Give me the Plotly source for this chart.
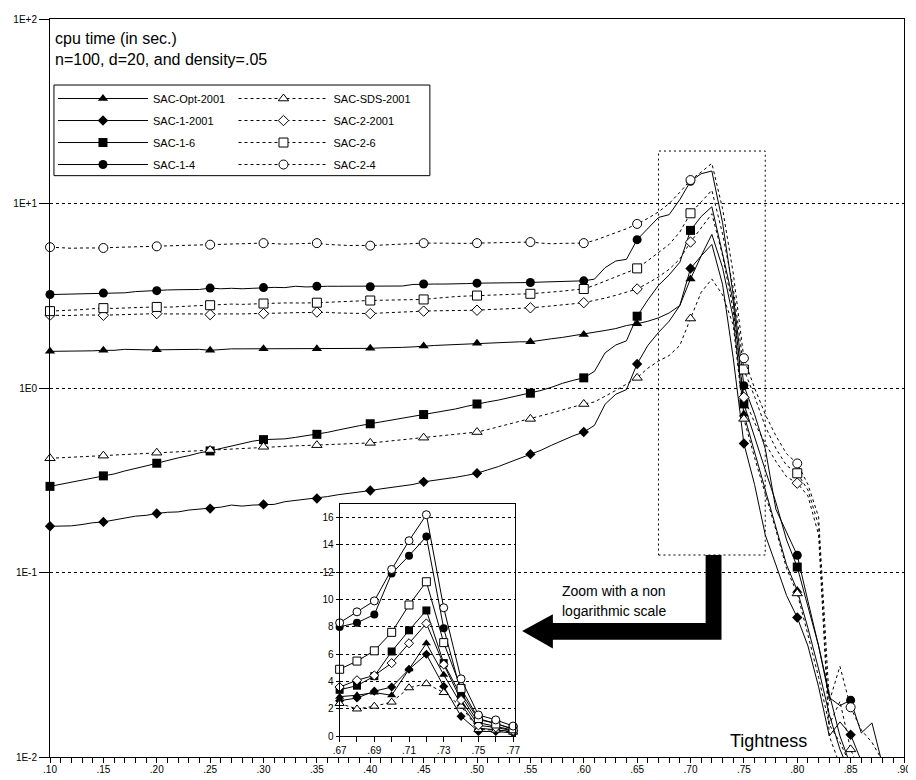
import plotly.graph_objects as go

# ---------------- data ----------------
tightness = [round(0.10 + 0.01 * i, 2) for i in range(79)]          # .10 ... .88
x_tick_values = [0.10, 0.15, 0.20, 0.25, 0.30, 0.35, 0.40, 0.45, 0.50,
                 0.55, 0.60, 0.65, 0.70, 0.75, 0.80, 0.85, 0.90]
x_tick_labels = [".10", ".15", ".20", ".25", ".30", ".35", ".40", ".45", ".50",
                 ".55", ".60", ".65", ".70", ".75", ".80", ".85", ".90"]
y_tick_values = [0.01, 0.1, 1, 10, 100]
y_tick_labels = ["1E-2", "1E-1", "1E0", "1E+1", "1E+2"]

inset_tightness = [0.67, 0.68, 0.69, 0.70, 0.71, 0.72, 0.73, 0.74, 0.75, 0.76, 0.77]
inset_tick_values = [0.67, 0.69, 0.71, 0.73, 0.75, 0.77]
inset_tick_labels = [".67", ".69", ".71", ".73", ".75", ".77"]
inset_y_tick_values = [0, 2, 4, 6, 8, 10, 12, 14, 16]

# cpu time (sec.), main log chart, one value per .01 of tightness
sac_opt_2001 = [1.58, 1.58, 1.58, 1.59, 1.59, 1.60, 1.60, 1.62, 1.61, 1.61,
                1.61, 1.61, 1.61, 1.62, 1.62, 1.60, 1.62, 1.63, 1.63, 1.63,
                1.63, 1.63, 1.63, 1.63, 1.63, 1.63, 1.64, 1.64, 1.64, 1.64,
                1.64, 1.65, 1.65, 1.66, 1.67, 1.69, 1.70, 1.71, 1.72, 1.74,
                1.75, 1.76, 1.76, 1.77, 1.78, 1.78, 1.82, 1.85, 1.88, 1.92,
                1.95, 2.00, 2.05, 2.10, 2.18, 2.23, 2.30, 2.40, 2.55, 2.80,
                3.90, 5.20, 6.80, 4.50, 2.40, 0.72, 0.45, 0.29, 0.18, 0.11,
                0.080, 0.050, 0.030, 0.017, 0.011, 0.008]
sac_1_2001 = [0.178, 0.178, 0.179, 0.182, 0.186, 0.188, 0.193, 0.198, 0.202, 0.204,
              0.209, 0.212, 0.213, 0.218, 0.220, 0.222, 0.226, 0.232, 0.229, 0.232,
              0.234, 0.234, 0.242, 0.246, 0.248, 0.252, 0.258, 0.264, 0.268, 0.272,
              0.278, 0.284, 0.290, 0.296, 0.300, 0.310, 0.315, 0.320, 0.328, 0.336,
              0.345, 0.360, 0.375, 0.395, 0.415, 0.438, 0.460, 0.490, 0.520, 0.550,
              0.577, 0.627, 0.817, 0.925, 0.980, 1.35, 1.70, 2.00, 2.30, 2.80,
              4.44, 5.20, 6.00, 3.65, 1.46, 0.50, 0.30, 0.16, 0.11, 0.075,
              0.057, 0.040, 0.024, 0.013, 0.0155, 0.0132, 0.0095]
sac_1_6 = [0.293, 0.300, 0.308, 0.316, 0.325, 0.334, 0.342, 0.355, 0.368, 0.378,
           0.391, 0.405, 0.418, 0.430, 0.445, 0.456, 0.470, 0.485, 0.500, 0.515,
           0.525, 0.528, 0.530, 0.540, 0.552, 0.561, 0.575, 0.592, 0.610, 0.625,
           0.640, 0.655, 0.670, 0.685, 0.700, 0.718, 0.735, 0.752, 0.770, 0.795,
           0.819, 0.840, 0.860, 0.885, 0.910, 0.937, 0.970, 1.010, 1.060, 1.100,
           1.135, 1.230, 1.550, 1.710, 1.800, 2.450, 3.000, 3.600, 4.100, 4.800,
           7.15, 8.50, 9.60, 5.35, 2.95, 0.82, 0.55, 0.36, 0.24, 0.15,
           0.107, 0.065, 0.040, 0.022, 0.013, 0.009]
sac_1_4 = [3.21, 3.22, 3.22, 3.24, 3.26, 3.27, 3.28, 3.28, 3.33, 3.36,
           3.37, 3.40, 3.41, 3.41, 3.42, 3.48, 3.45, 3.47, 3.45, 3.47,
           3.50, 3.51, 3.50, 3.56, 3.53, 3.56, 3.56, 3.56, 3.56, 3.56,
           3.54, 3.56, 3.56, 3.57, 3.64, 3.66, 3.66, 3.66, 3.66, 3.68,
           3.70, 3.70, 3.71, 3.72, 3.73, 3.73, 3.75, 3.76, 3.76, 3.80,
           3.81, 3.89, 4.49, 4.88, 4.98, 6.37, 7.30, 8.40, 8.70, 10.5,
           13.2, 14.5, 15.0, 7.90, 3.20, 1.03, 0.72, 0.47, 0.22, 0.165,
           0.124, 0.070, 0.040, 0.021, 0.019, 0.0203, 0.0135, 0.0153, 0.009]
sac_sds_2001 = [0.416, 0.418, 0.420, 0.423, 0.426, 0.430, 0.433, 0.436, 0.440, 0.443,
                0.446, 0.448, 0.451, 0.454, 0.457, 0.461, 0.465, 0.469, 0.472, 0.476,
                0.480, 0.482, 0.484, 0.486, 0.488, 0.490, 0.493, 0.496, 0.499, 0.502,
                0.504, 0.510, 0.517, 0.524, 0.531, 0.538, 0.545, 0.553, 0.561, 0.569,
                0.577, 0.595, 0.615, 0.636, 0.658, 0.680, 0.705, 0.732, 0.760, 0.790,
                0.819, 0.840, 0.900, 0.970, 1.050, 1.135, 1.280, 1.400, 1.500, 1.700,
                2.38, 3.30, 3.90, 3.20, 2.20, 0.68, 0.42, 0.27, 0.17, 0.105,
                0.077, 0.046, 0.027, 0.015, 0.020, 0.011, 0.008]
sac_2_2001 = [2.48, 2.47, 2.47, 2.49, 2.48, 2.48, 2.49, 2.50, 2.52, 2.53,
              2.53, 2.52, 2.52, 2.51, 2.50, 2.50, 2.51, 2.52, 2.52, 2.53,
              2.53, 2.54, 2.55, 2.56, 2.57, 2.58, 2.57, 2.55, 2.54, 2.53,
              2.53, 2.55, 2.57, 2.59, 2.60, 2.61, 2.62, 2.62, 2.63, 2.63,
              2.64, 2.66, 2.67, 2.69, 2.71, 2.72, 2.75, 2.78, 2.82, 2.86,
              2.90, 2.98, 3.07, 3.18, 3.30, 3.44, 3.70, 4.00, 4.40, 5.00,
              6.18, 7.40, 8.80, 5.25, 2.65, 0.89, 0.65, 0.50, 0.40, 0.33,
              0.305, 0.26, 0.16, 0.013, 0.009]
sac_2_6 = [2.61, 2.62, 2.64, 2.66, 2.69, 2.71, 2.70, 2.72, 2.73, 2.74,
           2.75, 2.74, 2.76, 2.78, 2.80, 2.81, 2.83, 2.85, 2.84, 2.86,
           2.87, 2.88, 2.89, 2.88, 2.89, 2.90, 2.92, 2.94, 2.96, 2.97,
           2.98, 2.99, 3.00, 3.01, 3.02, 3.02, 3.06, 3.10, 3.13, 3.15,
           3.17, 3.18, 3.20, 3.22, 3.23, 3.24, 3.27, 3.30, 3.35, 3.40,
           3.44, 3.60, 3.80, 4.00, 4.20, 4.45, 4.90, 5.40, 6.00, 7.00,
           8.85, 10.2, 11.8, 6.85, 3.50, 1.26, 0.90, 0.62, 0.47, 0.38,
           0.345, 0.28, 0.18, 0.015, 0.012, 0.009]
sac_2_4 = [5.80, 5.75, 5.72, 5.74, 5.72, 5.74, 5.78, 5.80, 5.82, 5.84,
           5.86, 5.88, 5.90, 5.92, 5.95, 5.98, 6.00, 6.02, 6.05, 6.08,
           6.10, 6.06, 6.02, 6.05, 6.08, 6.10, 6.00, 5.95, 5.92, 5.93,
           5.91, 5.95, 6.00, 6.05, 6.08, 6.10, 6.10, 6.08, 6.05, 6.08,
           6.10, 6.12, 6.15, 6.16, 6.18, 6.18, 6.10, 6.05, 6.08, 6.10,
           6.10, 6.30, 6.60, 6.90, 7.30, 7.75, 8.30, 9.00, 10.0, 11.5,
           13.4, 14.8, 16.5, 9.40, 4.20, 1.45, 1.00, 0.72, 0.55, 0.44,
           0.39, 0.30, 0.20, 0.020, 0.031, 0.0186, 0.014, 0.012, 0.0095]

# zoom (linear scale), tightness .67 ... .77
inset_sac_opt_2001 = [2.9, 3.0, 3.2, 3.0, 4.9, 6.8, 4.5, 2.35, 0.6, 0.5, 0.35]
inset_sac_1_2001 = [2.6, 2.8, 3.3, 3.6, 4.9, 6.0, 3.65, 1.46, 0.36, 0.35, 0.25]
inset_sac_1_6 = [3.4, 3.7, 4.4, 6.2, 7.75, 9.2, 5.35, 2.95, 1.0, 0.7, 0.45]
inset_sac_1_4 = [8.0, 8.3, 8.9, 11.9, 13.2, 14.6, 7.9, 3.2, 1.22, 0.95, 0.5]
inset_sac_sds_2001 = [2.4, 2.0, 2.2, 2.5, 3.55, 3.85, 3.2, 2.2, 0.5, 0.45, 0.3]
inset_sac_2_2001 = [3.6, 4.1, 4.45, 5.35, 6.8, 8.25, 5.25, 2.65, 0.8, 0.65, 0.4]
inset_sac_2_6 = [4.9, 5.5, 6.25, 7.6, 9.6, 11.3, 6.85, 3.5, 1.3, 0.9, 0.55]
inset_sac_2_4 = [8.3, 9.1, 9.9, 12.2, 14.3, 16.2, 9.4, 4.2, 1.56, 1.2, 0.75]

# ---------------- styling ----------------
FONT = "Liberation Sans, Arial, sans-serif"
OFF = 8                      # page body margin in front of the figure
W, H = 916 - OFF, 780 - OFF
L, R, T, B = 50 - OFF, 5, 13 - OFF, 18
PW, PH = W - L - R, H - T - B   # 861 x 749 plot area (page x 50..911, y 13..762)


def px_x(px):
    return (px - 50) / PW


def px_y(py):
    return (762 - py) / PH


series = [
    # name, main values, inset values, symbol, filled, dashed(main), dashed(inset), legend
    ("SAC-Opt-2001", sac_opt_2001, inset_sac_opt_2001, "triangle-up", True, False, False, "legend"),
    ("SAC-1-2001", sac_1_2001, inset_sac_1_2001, "diamond", True, False, False, "legend"),
    ("SAC-1-6", sac_1_6, inset_sac_1_6, "square", True, False, False, "legend"),
    ("SAC-1-4", sac_1_4, inset_sac_1_4, "circle", True, False, False, "legend"),
    ("SAC-SDS-2001", sac_sds_2001, inset_sac_sds_2001, "triangle-up", False, True, True, "legend2"),
    ("SAC-2-2001", sac_2_2001, inset_sac_2_2001, "diamond", False, True, False, "legend2"),
    ("SAC-2-6", sac_2_6, inset_sac_2_6, "square", False, True, False, "legend2"),
    ("SAC-2-4", sac_2_4, inset_sac_2_4, "circle", False, True, False, "legend2"),
]

DASH = "3px,3px"


def marker_style(symbol, filled, size=9):
    size = size - 1 if symbol == "diamond" else size
    if filled:
        return dict(symbol=symbol, size=size, color="black", line=dict(color="black", width=0))
    return dict(symbol=symbol, size=size, color="white", line=dict(color="black", width=1))


fig = go.Figure()

for name, vals, ivals, symbol, filled, dashed, idashed, leg in series:
    xs = tightness[:len(vals)]
    line = dict(color="black", width=1, dash=DASH if dashed else "solid")
    # line through every measurement
    fig.add_trace(go.Scatter(x=xs, y=vals, mode="lines", line=line,
                             showlegend=False, hoverinfo="skip", xaxis="x", yaxis="y"))
    # markers every .05 (only those inside the plotted range)
    mx = [x for i, (x, v) in enumerate(zip(xs, vals)) if i % 5 == 0 and v >= 0.01]
    my = [v for i, (x, v) in enumerate(zip(xs, vals)) if i % 5 == 0 and v >= 0.01]
    fig.add_trace(go.Scatter(x=mx, y=my, mode="markers", marker=marker_style(symbol, filled),
                             cliponaxis=False, showlegend=False, xaxis="x", yaxis="y"))
    # legend entry
    fig.add_trace(go.Scatter(x=[None], y=[None], mode="lines+markers", name=name,
                             line=line, marker=marker_style(symbol, filled),
                             legend=leg, legendgroup=name, showlegend=True))
    # zoom inset (linear)
    iline = dict(color="black", width=1, dash=DASH if idashed else "solid")
    fig.add_trace(go.Scatter(x=inset_tightness, y=ivals, mode="lines+markers", line=iline,
                             marker=marker_style(symbol, filled, size=8), cliponaxis=False,
                             showlegend=False, xaxis="x2", yaxis="y2"))

tickfont = dict(family=FONT, size=10, color="black")

fig.update_layout(
    width=W, height=H,
    margin=dict(l=L, r=R, t=T, b=B, pad=0),
    paper_bgcolor="white", plot_bgcolor="white",
    font=dict(family=FONT, color="black"),
    xaxis=dict(range=[0.10, 0.90], tickmode="array", tickvals=x_tick_values, ticktext=x_tick_labels,
               ticks="outside", ticklen=5, tickwidth=1, tickcolor="black",
               minor=dict(tick0=0.10, dtick=0.01, ticks="outside", ticklen=5, tickcolor="black"),
               showgrid=False, zeroline=False, showline=True, linecolor="black", linewidth=1,
               mirror=True, tickfont=tickfont, ticklabelstandoff=-2),
    yaxis=dict(type="log", range=[-2, 2], tickmode="array", tickvals=y_tick_values, ticktext=y_tick_labels,
               ticks="outside", ticklen=10, tickwidth=1, tickcolor="black",
               showgrid=True, gridcolor="black", gridwidth=1, griddash=DASH,
               zeroline=False, showline=True, linecolor="black", linewidth=1, mirror=True,
               tickfont=tickfont),
    xaxis2=dict(domain=[px_x(342), px_x(519)], range=[0.67, 0.7712], anchor="y2",
                tickmode="array", tickvals=inset_tick_values, ticktext=inset_tick_labels,
                ticks="outside", ticklen=5, tickcolor="black",
                minor=dict(tick0=0.67, dtick=0.01, ticks="outside", ticklen=5, tickcolor="black"),
                showgrid=False, zeroline=False, showline=True, linecolor="black", linewidth=1,
                mirror=True, tickfont=tickfont),
    yaxis2=dict(domain=[px_y(741), px_y(505)], range=[0, 17], anchor="x2",
                tickmode="array", tickvals=inset_y_tick_values,
                ticks="outside", ticklen=3, tickcolor="black",
                showgrid=True, gridcolor="black", gridwidth=1, griddash=DASH,
                zeroline=False, showline=True, linecolor="black", linewidth=1, mirror=True,
                tickfont=tickfont),
    legend=dict(x=px_x(53), y=px_y(79), xanchor="left", yanchor="top", orientation="v",
                itemwidth=90, tracegroupgap=3, bgcolor="rgba(0,0,0,0)", borderwidth=0,
                font=dict(family=FONT, size=11, color="black")),
    legend2=dict(x=px_x(235), y=px_y(79), xanchor="left", yanchor="top", orientation="v",
                 itemwidth=90, tracegroupgap=3, bgcolor="rgba(0,0,0,0)", borderwidth=0,
                 font=dict(family=FONT, size=11, color="black")),
)

shapes = []
# legend frame
shapes.append(dict(type="rect", xref="paper", yref="paper",
                   x0=px_x(54), x1=px_x(433), y0=px_y(172), y1=px_y(80),
                   line=dict(color="black", width=1), fillcolor="rgba(0,0,0,0)"))
# zoomed region indicator
shapes.append(dict(type="rect", xref="x", yref="paper", x0=0.67, x1=0.77,
                   y0=px_y(557), y1=px_y(147), line=dict(color="black", width=1, dash="2px,3px")))
# big L-shaped arrow
pts = [(711, 557), (727, 557), (727, 643), (557, 643), (557, 652), (526, 634),
       (557, 617), (557, 626), (711, 626)]
path = "M " + " L ".join(f"{px_x(a):.5f},{px_y(b):.5f}" for a, b in pts) + " Z"
shapes.append(dict(type="path", xref="paper", yref="paper", path=path,
                   fillcolor="black", line=dict(color="black", width=0)))
fig.update_layout(shapes=shapes)

ann = []
ann.append(dict(text="cpu time (in sec.)", x=px_x(53), y=px_y(33), xref="paper", yref="paper",
                xanchor="left", yanchor="middle", showarrow=False,
                font=dict(family=FONT, size=16, color="black")))
ann.append(dict(text="n=100, d=20, and density=.05", x=px_x(53), y=px_y(54), xref="paper", yref="paper",
                xanchor="left", yanchor="middle", showarrow=False,
                font=dict(family=FONT, size=16, color="black")))
ann.append(dict(text="Zoom with a non", x=px_x(564), y=px_y(594), xref="paper", yref="paper",
                xanchor="left", yanchor="middle", showarrow=False,
                font=dict(family=FONT, size=14, color="black")))
ann.append(dict(text="logarithmic scale", x=px_x(564), y=px_y(614), xref="paper", yref="paper",
                xanchor="left", yanchor="middle", showarrow=False,
                font=dict(family=FONT, size=14, color="black")))
ann.append(dict(text="Tightness", x=px_x(774), y=px_y(746), xref="paper", yref="paper",
                xanchor="center", yanchor="middle", showarrow=False,
                font=dict(family=FONT, size=18, color="black")))
fig.update_layout(annotations=ann)

fig.write_html("out.html")
